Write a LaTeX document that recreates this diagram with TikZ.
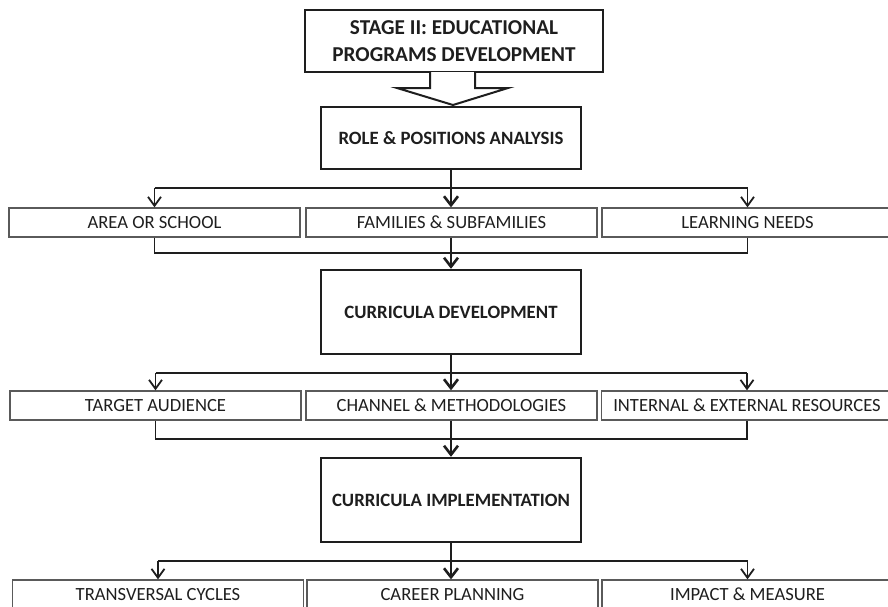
\documentclass[tikz,border=0pt]{standalone}
\usepackage{fontspec}
\setmainfont{Carlito}
\usetikzlibrary{arrows.meta}
\definecolor{ink}{HTML}{1E1E1E}
\definecolor{rim}{HTML}{5A5A5A}
\tikzset{
  mainbox/.style={draw=ink, line width=2.4pt, rectangle, font=\bfseries\fontsize{18.8}{22}\selectfont, text=ink, inner sep=0pt},
  rowbox/.style={draw=rim, line width=1.3pt, rectangle, minimum width=291pt, minimum height=29pt, inner sep=0pt, font=\fontsize{18.6}{20}\selectfont, text=ink},
  link/.style={draw=ink, line width=1.8pt},
  sidearrow/.style={link, -{Straight Barb[length=9pt,width=13pt,line width=1.8pt]}},
  mainarrow/.style={draw=ink, line width=2.6pt, -{Straight Barb[length=9pt,width=14pt,line width=2.6pt]}},
}
\begin{document}
\begin{tikzpicture}[x=1pt,y=-1pt]
\useasboundingbox (0,0) rectangle (888,606);

% header box and the block arrow under it
\node[mainbox, line width=2.8pt, minimum width=298pt, minimum height=62pt, align=center,
      font=\bfseries\fontsize{21.2}{27}\selectfont] (stage) at (454,41)
  {STAGE II: EDUCATIONAL\\PROGRAMS DEVELOPMENT};
\draw[draw=ink, line width=2pt, line join=miter, fill=white]
  (430,72) -- (430,88) -- (397,88) -- (453,105) -- (508,88) -- (475,88) -- (475,72);

% central process boxes
\node[mainbox, minimum width=260pt, minimum height=62pt] (role) at (451,138) {ROLE \& POSITIONS ANALYSIS};
\node[mainbox, minimum width=260pt, minimum height=84pt] (cdev) at (451,312) {CURRICULA DEVELOPMENT};
\node[mainbox, minimum width=260pt, minimum height=84pt] (cimp) at (451,500) {CURRICULA IMPLEMENTATION};

% first row
\node[rowbox] (area) at (154.5,222.5) {AREA OR SCHOOL};
\node[rowbox] (fam)  at (451.5,222.5) {FAMILIES \& SUBFAMILIES};
\node[rowbox] (need) at (747.5,222.5) {LEARNING NEEDS};

% second row
\node[rowbox] (aud)  at (155.5,405.5) {TARGET AUDIENCE};
\node[rowbox] (chan) at (451.5,405.5) {CHANNEL \& METHODOLOGIES};
\node[rowbox] (res)  at (747,405.5) {INTERNAL \& EXTERNAL RESOURCES};

% third row
\node[rowbox] (cyc)  at (158,594.5) {TRANSVERSAL CYCLES};
\node[rowbox] (car)  at (452.5,594.5) {CAREER PLANNING};
\node[rowbox] (imp)  at (747.5,594.5) {IMPACT \& MEASURE};

% branching levels
\coordinate (s1) at (451,188);
\coordinate (m1) at (451,253);
\coordinate (s2) at (451,373);
\coordinate (m2) at (451,439);
\coordinate (s3) at (451,561);

% role analysis -> first row
\draw[link] (s1 -| area.north) -- (s1 -| need.north);
\draw[sidearrow] (s1 -| area.north) -- (area.north);
\draw[sidearrow] (s1 -| need.north) -- (need.north);
\draw[mainarrow] (role.south) -- (role.south |- fam.north);

% first row -> curricula development
\draw[link] (area.south) -- (m1 -| area.south) -- (m1 -| need.south) -- (need.south);
\draw[mainarrow] (fam.south -| cdev.north) -- (cdev.north);

% curricula development -> second row
\draw[link] (s2 -| aud.north) -- (s2 -| res.north);
\draw[sidearrow] (s2 -| aud.north) -- (aud.north);
\draw[sidearrow] (s2 -| res.north) -- (res.north);
\draw[mainarrow] (cdev.south) -- (cdev.south |- chan.north);

% second row -> curricula implementation
\draw[link] (aud.south) -- (m2 -| aud.south) -- (m2 -| res.south) -- (res.south);
\draw[mainarrow] (chan.south -| cimp.north) -- (cimp.north);

% curricula implementation -> third row
\draw[link] (s3 -| cyc.north) -- (s3 -| imp.north);
\draw[sidearrow] (s3 -| cyc.north) -- (cyc.north);
\draw[sidearrow] (s3 -| imp.north) -- (imp.north);
\draw[mainarrow] (cimp.south) -- (cimp.south |- car.north);
\end{tikzpicture}
\end{document}
